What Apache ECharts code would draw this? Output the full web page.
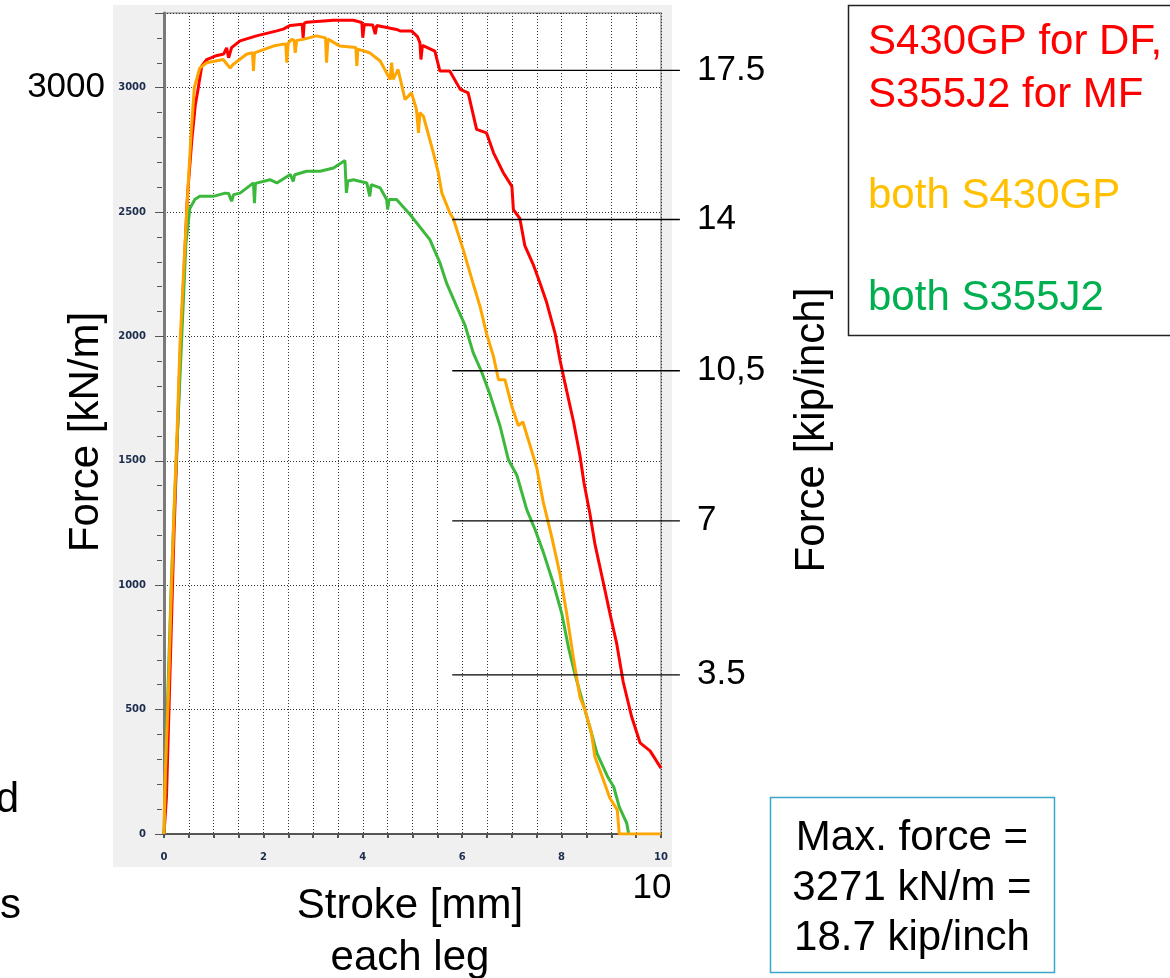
<!DOCTYPE html>
<html>
<head>
<meta charset="utf-8">
<script src="https://cdn.jsdelivr.net/npm/echarts@6/dist/echarts.min.js"></script>
<style>
  html, body { margin: 0; padding: 0; background: #fff; }
  #chart { width: 1170px; height: 978px; }
</style>
</head>
<body>
<div id="chart"></div>
<script>
// stroke [mm], force [kN/m]
var redData = [[0,0],[0.05,150],[0.1,500],[0.15,850],[0.2,1200],[0.26,1550],[0.32,1900],[0.4,2250],[0.47,2560],[0.56,2790],[0.63,2930],[0.69,3000],[0.76,3087],[0.86,3113],[1.03,3127],[1.2,3135],[1.26,3160],[1.3,3120],[1.36,3161],[1.53,3188],[1.86,3208],[2.27,3228],[2.4,3235],[2.54,3250],[2.78,3255],[2.8,3200],[2.82,3258],[2.87,3263],[3.41,3271],[3.81,3271],[3.98,3262],[4.0,3201],[4.03,3254],[4.2,3252],[4.25,3215],[4.28,3250],[4.68,3234],[4.75,3228],[4.98,3228],[5.1,3205],[5.15,3180],[5.17,3113],[5.2,3170],[5.45,3147],[5.55,3067],[5.75,3067],[5.96,2993],[6.12,2979],[6.29,2832],[6.49,2818],[6.63,2738],[6.83,2657],[7.0,2603],[7.03,2510],[7.16,2474],[7.26,2365],[7.43,2289],[7.57,2212],[7.7,2136],[7.87,2011],[7.97,1903],[8.07,1810],[8.24,1657],[8.37,1520],[8.45,1412],[8.57,1287],[8.67,1166],[8.84,1010],[8.97,889],[9.11,764],[9.24,611],[9.41,471],[9.58,366],[9.78,334],[10,265]];
var orangeData = [[0,0],[0.02,217],[0.09,575],[0.14,933],[0.2,1293],[0.26,1598],[0.32,1958],[0.39,2245],[0.47,2550],[0.54,2800],[0.61,3000],[0.72,3079],[0.86,3100],[1.19,3113],[1.33,3079],[1.39,3093],[1.66,3134],[1.78,3140],[1.8,3067],[1.82,3140],[1.86,3147],[2.2,3167],[2.37,3174],[2.45,3175],[2.47,3100],[2.5,3180],[2.57,3194],[2.62,3190],[2.64,3140],[2.67,3190],[2.8,3194],[3.07,3208],[3.25,3200],[3.27,3100],[3.3,3195],[3.34,3194],[3.54,3167],[3.86,3161],[3.88,3087],[3.9,3155],[4.14,3140],[4.35,3107],[4.55,3033],[4.58,3100],[4.61,3033],[4.71,3073],[4.85,2952],[4.98,2979],[5.08,2912],[5.12,2818],[5.15,2900],[5.22,2885],[5.42,2738],[5.52,2657],[5.59,2577],[5.75,2497],[5.82,2474],[6.02,2349],[6.22,2212],[6.36,2120],[6.49,2011],[6.63,1919],[6.73,1826],[6.86,1826],[7.0,1718],[7.13,1641],[7.22,1657],[7.36,1565],[7.5,1472],[7.63,1335],[7.8,1195],[7.97,1042],[8.1,889],[8.24,704],[8.37,549],[8.47,500],[8.6,406],[8.67,310],[8.82,229],[8.97,145],[9.12,97],[9.16,0],[10,0]];
var greenData = [[0,0],[0.05,395],[0.15,1026],[0.24,1472],[0.36,2011],[0.44,2371],[0.52,2514],[0.62,2550],[0.72,2563],[0.99,2563],[1.23,2576],[1.3,2575],[1.36,2543],[1.4,2570],[1.53,2576],[1.8,2617],[1.82,2536],[1.84,2615],[2.13,2630],[2.27,2617],[2.54,2651],[2.6,2623],[2.63,2650],[2.87,2664],[3.14,2664],[3.41,2677],[3.64,2707],[3.67,2577],[3.7,2625],[3.81,2630],[4.08,2617],[4.14,2563],[4.17,2610],[4.35,2597],[4.48,2550],[4.5,2510],[4.53,2550],[4.68,2550],[4.95,2490],[5.35,2389],[5.55,2297],[5.69,2212],[5.89,2120],[6.06,2043],[6.22,1935],[6.39,1858],[6.56,1766],[6.76,1641],[6.93,1504],[7.1,1442],[7.3,1303],[7.46,1227],[7.63,1134],[7.83,1010],[8.0,889],[8.14,748],[8.27,642],[8.44,519],[8.6,406],[8.71,325],[8.93,229],[9.05,189],[9.16,109],[9.31,44],[9.35,0]];

// kip/inch reference lines (label, force in kN/m where the line is drawn)
var kipLabels = ['17.5', '14', '10,5', '7', '3.5'];
var kipLineForce = [3069, 2470, 1862, 1259, 640];
var kipLineFrom = 5.8;
var kipLineTo = 10.38;

var legendLines = ['S430GP for DF,', 'S355J2 for MF', 'both S430GP', 'both S355J2'];
var maxForceLines = ['Max. force =', '3271 kN/m =', '18.7 kip/inch'];

var FONT = "'Liberation Sans', Arial, sans-serif";
var chart = echarts.init(document.getElementById('chart'));

chart.setOption({
  animation: false,
  backgroundColor: '#fff',
  grid: {
    left: 164, right: 509, top: 13, bottom: 144,
    show: true, backgroundColor: '#fff', borderColor: '#b4b4b4', borderWidth: 2
  },
  xAxis: {
    type: 'value', min: 0, max: 10, interval: 2, offset: 6,
    axisLine: { show: true, lineStyle: { color: '#555', width: 2 } },
    axisTick: { show: true, length: 4, lineStyle: { color: '#555', width: 2 } },
    minorTick: { show: true, splitNumber: 4, length: 4, lineStyle: { color: '#555', width: 2 } },
    axisLabel: { margin: 12, fontSize: 10, fontWeight: 'bold', color: '#1c2c4c', fontFamily: 'Verdana, DejaVu Sans, sans-serif' },
    splitLine: { show: true, lineStyle: { color: '#333', type: [1, 2], width: 1 } },
    minorSplitLine: { show: true, lineStyle: { color: '#333', type: [1, 2], width: 1 } }
  },
  yAxis: [{
    type: 'value', min: 0, max: 3300, interval: 500, offset: 2,
    axisLine: { show: true, lineStyle: { color: '#7a7a7a', width: 3 } },
    axisTick: { show: true, length: 9, lineStyle: { color: '#555', width: 1 } },
    axisLabel: {
      margin: 16, fontSize: 10, fontWeight: 'bold', color: '#1c2c4c', fontFamily: 'Verdana, DejaVu Sans, sans-serif',
      formatter: function (v) { return v % 500 === 0 ? String(v) : ''; }
    },
    splitLine: { show: true, lineStyle: { color: '#333', type: [1, 2], width: 1 } }
  }, {
    type: 'value', min: 0, max: 3300, interval: 100, offset: 2, position: 'left',
    axisLine: { show: false },
    axisTick: { show: true, length: 5, lineStyle: { color: '#555', width: 1 } },
    axisLabel: { show: false },
    splitLine: { show: false }
  }],
  series: [
    { name: 'red', type: 'line', data: redData, showSymbol: false, lineStyle: { color: '#ff0000', width: 3 }, z: 3 },
    { name: 'green', type: 'line', data: greenData, showSymbol: false, lineStyle: { color: '#3cb83c', width: 3 }, z: 4 },
    { name: 'orange', type: 'line', data: orangeData, showSymbol: false, lineStyle: { color: '#ffa500', width: 3 }, z: 5 }
  ]
});

function px(x, y) { return chart.convertToPixel({ gridIndex: 0 }, [x, y]); }

var g = [];
// grey panel behind the plot
g.push({ type: 'rect', shape: { x: 113, y: 5, width: 559, height: 862 }, style: { fill: '#f0f0f0' }, z: -10, silent: true });

// kip/inch lines and labels
kipLabels.forEach(function (lab, i) {
  var a = px(kipLineFrom, kipLineForce[i]);
  var b = px(kipLineTo, kipLineForce[i]);
  g.push({ type: 'line', shape: { x1: a[0], y1: a[1], x2: b[0], y2: b[1] }, style: { stroke: '#000', lineWidth: 1.3 }, z: 20 });
  g.push({ type: 'text', x: 697, y: a[1], style: { text: lab, font: '35px ' + FONT, fill: '#000', textAlign: 'left', textVerticalAlign: 'middle' }, z: 20 });
});

// big annotations around the axes
var p3000 = px(0, 3000);
g.push({ type: 'text', x: 105, y: p3000[1], style: { text: '3000', font: '35px ' + FONT, fill: '#000', textAlign: 'right', textVerticalAlign: 'middle' }, z: 20 });
var p10 = px(10, 0);
g.push({ type: 'text', x: p10[0] - 9, y: 888, style: { text: '10', font: '35px ' + FONT, fill: '#000', textAlign: 'center', textVerticalAlign: 'middle' }, z: 20 });
g.push({ type: 'text', x: 86, y: 432, rotation: Math.PI / 2, style: { text: 'Force [kN/m]', font: '42px ' + FONT, fill: '#000', textAlign: 'center', textVerticalAlign: 'middle' }, z: 20 });
g.push({ type: 'text', x: 812, y: 430, rotation: Math.PI / 2, style: { text: 'Force [kip/inch]', font: '42px ' + FONT, fill: '#000', textAlign: 'center', textVerticalAlign: 'middle' }, z: 20 });
g.push({ type: 'text', x: 410, y: 906, style: { text: 'Stroke [mm]', font: '42px ' + FONT, fill: '#000', textAlign: 'center', textVerticalAlign: 'middle' }, z: 20 });
g.push({ type: 'text', x: 410, y: 958, style: { text: 'each leg', font: '42px ' + FONT, fill: '#000', textAlign: 'center', textVerticalAlign: 'middle' }, z: 20 });
g.push({ type: 'text', x: 19, y: 800, style: { text: 'd', font: '42px ' + FONT, fill: '#000', textAlign: 'right', textVerticalAlign: 'middle' }, z: 20 });
g.push({ type: 'text', x: 21, y: 906, style: { text: 's', font: '42px ' + FONT, fill: '#000', textAlign: 'right', textVerticalAlign: 'middle' }, z: 20 });

// legend box
g.push({ type: 'rect', shape: { x: 848.5, y: 5.5, width: 340, height: 330 }, style: { fill: 'none', stroke: '#222', lineWidth: 1.5 }, z: 20 });
var legendColors = ['#ff0000', '#ff0000', '#ffc000', '#00b050'];
var legendY = [42, 95, 196, 298];
legendLines.forEach(function (t, i) {
  g.push({ type: 'text', x: 868, y: legendY[i], style: { text: t, font: '42px ' + FONT, fill: legendColors[i], textAlign: 'left', textVerticalAlign: 'middle' }, z: 20 });
});

// max force box
g.push({ type: 'rect', shape: { x: 770.5, y: 797.5, width: 284, height: 175 }, style: { fill: '#fff', stroke: '#3aa6c9', lineWidth: 1.5 }, z: 20 });
maxForceLines.forEach(function (t, i) {
  g.push({ type: 'text', x: 912, y: 838 + i * 50, style: { text: t, font: '42px ' + FONT, fill: '#000', textAlign: 'center', textVerticalAlign: 'middle' }, z: 21 });
});

chart.setOption({ graphic: g });
</script>
</body>
</html>
